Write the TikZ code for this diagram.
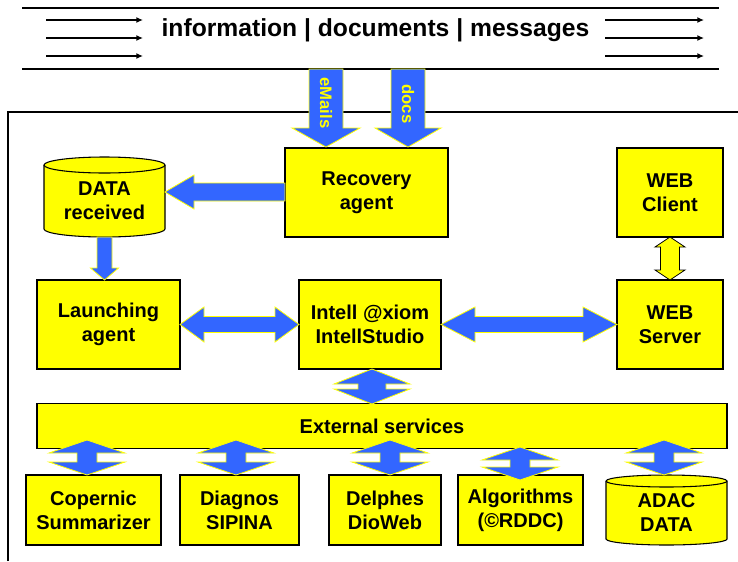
\documentclass[tikz,border=0pt]{standalone}
\usepackage{fontspec}
\setmainfont{Liberation Sans}
\usetikzlibrary{arrows.meta}
\definecolor{byellow}{RGB}{255,255,0}
\definecolor{bblue}{RGB}{51,102,255}
\tikzset{
  ybox/.style={draw=black, line width=0.8pt, fill=byellow},
  boxtext/.style={font=\bfseries\fontsize{15}{18}\selectfont, align=center, text=black},
  barrow/.style={fill=bblue, draw=byellow, line width=0.6pt, line join=miter},
  yarrow/.style={fill=byellow, draw=black, line width=0.6pt, line join=miter},
  flowline/.style={line width=1pt, -{Latex[length=5pt,width=4.5pt]}},
  rule/.style={line width=1.3pt},
}
% vertical down arrow: x, ytop, ytip, half shaft, half head, head length, style
\newcommand\blkdown[7]{\draw[#7] (#1-#4,#2) -- (#1+#4,#2) -- (#1+#4,#3-#6) -- (#1+#5,#3-#6) -- (#1,#3) -- (#1-#5,#3-#6) -- (#1-#4,#3-#6) -- cycle;}
% left arrow: y, xtip, xend, half shaft, half head, head length
\newcommand\blkleft[6]{\draw[barrow] (#2,#1) -- (#2+#6,#1-#5) -- (#2+#6,#1-#4) -- (#3,#1-#4) -- (#3,#1+#4) -- (#2+#6,#1+#4) -- (#2+#6,#1+#5) -- cycle;}
% vertical double arrow: x, y1, y2, half shaft, half head, head length, style
\newcommand\vdbl[7]{\draw[#7] (#1,#2) -- (#1+#5,#2+#6) -- (#1+#4,#2+#6) -- (#1+#4,#3-#6) -- (#1+#5,#3-#6) -- (#1,#3) -- (#1-#5,#3-#6) -- (#1-#4,#3-#6) -- (#1-#4,#2+#6) -- (#1-#5,#2+#6) -- cycle;}
% horizontal double arrow: y, x1, x2, half shaft, half head, head length
\newcommand\hdbl[6]{\draw[barrow] (#2,#1) -- (#2+#6,#1-#5) -- (#2+#6,#1-#4) -- (#3-#6,#1-#4) -- (#3-#6,#1-#5) -- (#3,#1) -- (#3-#6,#1+#5) -- (#3-#6,#1+#4) -- (#2+#6,#1+#4) -- (#2+#6,#1+#5) -- cycle;}
% cylinder: x0, x1, ytop, ybot, ry
\newcommand\drawcyl[5]{%
  \pgfmathsetmacro\cxm{(#1+#2)/2}\pgfmathsetmacro\crx{(#2-#1)/2}%
  \pgfmathsetmacro\cyt{#3+#5}\pgfmathsetmacro\cyb{#4-#5}%
  \pgfmathsetmacro\ckx{0.5523*\crx}\pgfmathsetmacro\cky{0.5523*#5}%
  \draw[ybox] (#1,\cyt) -- (#1,\cyb) .. controls (#1,\cyb+\cky) and (\cxm-\ckx,#4) .. (\cxm,#4)
    .. controls (\cxm+\ckx,#4) and (#2,\cyb+\cky) .. (#2,\cyb) -- (#2,\cyt)
    .. controls (#2,\cyt-\cky) and (\cxm+\ckx,#3) .. (\cxm,#3)
    .. controls (\cxm-\ckx,#3) and (#1,\cyt-\cky) .. (#1,\cyt) -- cycle;
  \draw[line width=0.8pt] (#1,\cyt) .. controls (#1,\cyt+\cky) and (\cxm-\ckx,\cyt+#5) .. (\cxm,\cyt+#5)
    .. controls (\cxm+\ckx,\cyt+#5) and (#2,\cyt+\cky) .. (#2,\cyt);}
\begin{document}
\begin{tikzpicture}[x=0.75pt,y=-0.75pt]
\useasboundingbox (0,0) rectangle (738,561);
% top band
\coordinate (tl1) at (22,8); \coordinate (tr1) at (719,8);
\coordinate (tl2) at (22,69); \coordinate (tr2) at (719,69);
\draw[rule] (tl1) -- (tr1);
\draw[rule] (tl2) -- (tr2);
\node[font=\bfseries\fontsize{18.5}{21}\selectfont] (title) at (375.5,30) {information | documents | messages};
\foreach \yy/\nm in {20/a,38/b,56/c}{
  \coordinate (l\nm1) at (46,\yy); \coordinate (l\nm2) at (143,\yy);
  \coordinate (r\nm1) at (605,\yy); \coordinate (r\nm2) at (704,\yy);
  \draw[flowline] (l\nm1) -- (l\nm2);
  \draw[flowline] (r\nm1) -- (r\nm2);
}
% frame
\coordinate (f1) at (8,561); \coordinate (f2) at (8,112); \coordinate (f3) at (738,112);
\draw[line width=1pt] (f1) -- (f2) -- (f3);
% boxes
\node[ybox, boxtext, minimum width=163*0.75pt, minimum height=89*0.75pt] (recovery) at (366.5,192.5) {Recovery\\agent};
\node[ybox, boxtext, minimum width=106*0.75pt, minimum height=89*0.75pt] (client) at (670,192.5) {WEB\\Client};
\node[ybox, boxtext, minimum width=143*0.75pt, minimum height=89*0.75pt] (launch) at (108.5,324.5) {Launching\\agent};
\node[ybox, boxtext, minimum width=142*0.75pt, minimum height=89*0.75pt] (intell) at (370,324.5) {Intell @xiom\\IntellStudio};
\node[ybox, boxtext, minimum width=106*0.75pt, minimum height=89*0.75pt] (server) at (670,324.5) {WEB\\Server};
\node[ybox, boxtext, minimum width=690*0.75pt, minimum height=45*0.75pt] (ext) at (382,426) {External services};
\node[ybox, boxtext, minimum width=135*0.75pt, minimum height=70*0.75pt] (copernic) at (93.5,510) {Copernic\\Summarizer};
\node[ybox, boxtext, minimum width=119*0.75pt, minimum height=70*0.75pt] (diagnos) at (239.5,510) {Diagnos\\SIPINA};
\node[ybox, boxtext, minimum width=112*0.75pt, minimum height=70*0.75pt] (delphes) at (385,510) {Delphes\\DioWeb};
\node[ybox, boxtext, minimum width=125*0.75pt, minimum height=70*0.75pt] (algo) at (520.5,510) {Algorithms\\(\textcopyright RDDC)};
% cylinders
\drawcyl{44}{165}{157}{237}{8}
\node[boxtext] (data) at (104.5,201) {DATA\\received};
\drawcyl{606}{727}{475}{545}{6}
\node[boxtext] (adac) at (666.5,513) {ADAC\\DATA};
% incoming arrows
\blkdown{326}{69}{147}{17}{34}{19}{barrow}
\blkdown{408}{69}{147}{17}{33}{19}{barrow}
\node[rotate=-90, font=\bfseries\fontsize{12.5}{14}\selectfont, text=byellow] (emails) at (326,103) {eMails};
\node[rotate=-90, font=\bfseries\fontsize{12.5}{14}\selectfont, text=byellow] (docs) at (408,104) {docs};
% recovery -> data
\blkleft{192}{165}{285}{9}{17}{29}
% data -> launching
\blkdown{104.5}{237}{280}{7.5}{14}{12}{barrow}
% client <-> server
\vdbl{670}{237}{280}{9.5}{15}{10}{yarrow}
% horizontal double arrows
\hdbl{324.5}{180}{299}{8}{17.5}{24}
\hdbl{324.5}{441}{617}{8}{17.5}{34}
% intell <-> external
\vdbl{372}{369}{404}{14}{38}{15}{barrow}
% external <-> bottom
\vdbl{87}{440}{475}{10}{38}{13}{barrow}
\vdbl{236}{440}{475}{10}{38}{13}{barrow}
\vdbl{390}{440}{475}{10}{38}{13}{barrow}
\vdbl{520}{447}{480}{10}{38}{13}{barrow}
\vdbl{664}{440}{475}{10}{38}{13}{barrow}
\end{tikzpicture}
\end{document}
